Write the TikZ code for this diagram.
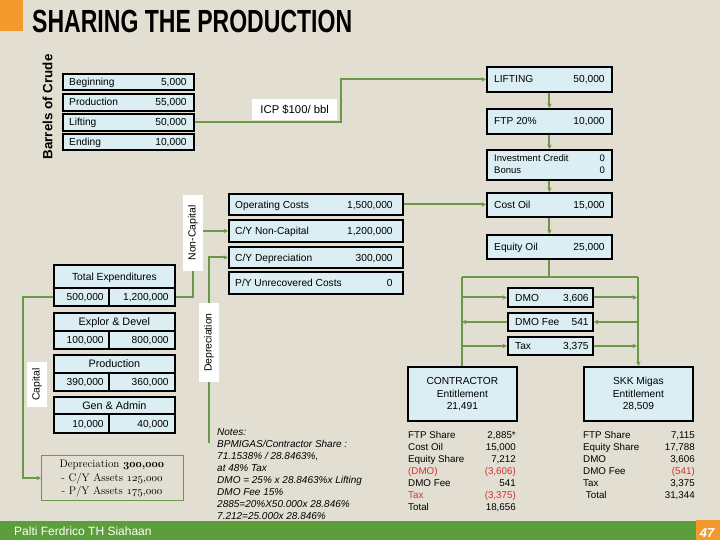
\documentclass[tikz,border=0pt]{standalone}
\usepackage{fontspec}
\setsansfont{Liberation Sans}
\usetikzlibrary{arrows.meta,calc}
\definecolor{bg}{RGB}{227,222,210}
\definecolor{boxfill}{RGB}{218,238,243}
\definecolor{lgreen}{RGB}{106,152,72}
\definecolor{bargreen}{RGB}{92,157,60}
\definecolor{orng}{RGB}{243,154,44}
\definecolor{redtxt}{RGB}{204,51,51}
\newcommand\fsz[1]{\fontsize{#1}{#1}\selectfont}
\def\lo{7}\def\ro{8}
% name x1 y1 x2 y2 label value
\newcommand\rbox[7]{%
  \node[bx, minimum width={(#4-#2)*1pt}, minimum height={(#5-#3)*1pt}, anchor=north west] (#1) at (#2,#3) {};
  \node[tx, anchor=base west] (#1-l) at ([xshift=\lo pt, yshift=-3.6pt]#1.west) {#6};
  \node[tx, anchor=base east] (#1-v) at ([xshift=-\ro pt, yshift=-3.6pt]#1.east) {#7};}
% name y1 y2 y3 header v1 v2
\newcommand\exg[7]{%
  \node[bx, minimum width=121pt, minimum height={(#3-#2)*1pt}, anchor=north west] (#1) at (53,#2) {};
  \node[bx, minimum width=55pt, minimum height={(#4-#3)*1pt}, anchor=north west] (#1a) at (53,#3) {};
  \node[bx, minimum width=66pt, minimum height={(#4-#3)*1pt}, anchor=north west] (#1b) at (108,#3) {};
  \node[tx, font=\sffamily\fsz{10.8}, anchor=base] (#1-h) at ([yshift=-4pt]#1.center) {#5};
  \node[tx, anchor=base east] (#1-v1) at ([xshift=-6pt, yshift=-3.6pt]#1a.east) {#6};
  \node[tx, anchor=base east] (#1-v2) at ([xshift=-7pt, yshift=-3.6pt]#1b.east) {#7};}
% name x1 x2 l1 l2 l3
\newcommand\ent[6]{%
  \node[bx, minimum width={(#3-#2)*1pt}, minimum height=54pt, anchor=north west] (#1) at (#2,366) {};
  \node[tx, anchor=base] (#1-a) at ($(#1.north)+(0,18)$) {#4};
  \node[tx, anchor=base] (#1-b) at ($(#1.north)+(0,31)$) {#5};
  \node[tx, anchor=base] (#1-c) at ($(#1.north)+(0,43.5)$) {#6};}
\begin{document}
\begin{tikzpicture}[x=1pt,y=-1pt,
  bx/.style={draw=black, line width=1.8pt, fill=boxfill, inner sep=0pt},
  tx/.style={inner sep=0pt, font=\sffamily\fsz{10.2}},
  wl/.style={fill=white, inner sep=0pt, font=\sffamily\fsz{10.4}},
  conn/.style={draw=lgreen, line width=2pt},
  arrowed/.style={-{Stealth[length=4.5pt,width=4.5pt]}},
  lst/.style={inner sep=0pt, font=\sffamily\fsz{9.8}},
  note/.style={inner sep=0pt, anchor=base west, font=\sffamily\itshape\fsz{10}}]
\useasboundingbox (0,0) rectangle (720,540);
\fill[bg] (0,0) rectangle (720,540);
\fill[orng] (0,0) rectangle (23,31);
\node[inner sep=0pt, anchor=base west, font=\sffamily\bfseries\fsz{32}] (title) at (32,33) {\scalebox{0.72}[1]{SHARING THE PRODUCTION}};
\node[inner sep=0pt, rotate=90, font=\sffamily\bfseries\fsz{13.4}] (barrels) at (47.5,107) {Barrels of Crude};

% crude boxes
\def\lo{7}\def\ro{8}
\rbox{beg}{62}{73}{193}{89}{Beginning}{5,000}
\rbox{prod}{62}{93}{193}{110}{Production}{55,000}
\rbox{lift}{62}{113}{193}{130}{Lifting}{50,000}
\rbox{endb}{62}{133}{193}{149}{Ending}{10,000}

% right column
\def\lo{8}\def\ro{8}
\rbox{LIFT}{486}{66}{611}{91}{LIFTING}{50,000}
\rbox{ftp}{486}{108}{611}{133}{FTP 20\%}{10,000}
\node[bx, minimum width=125pt, minimum height=30pt, anchor=north west] (inv) at (486,149) {};
\node[tx, font=\sffamily\fsz{9.5}, anchor=base west] (inv-l1) at (494,162) {Investment Credit};
\node[tx, font=\sffamily\fsz{9.5}, anchor=base west] (inv-l2) at (494,174) {Bonus};
\node[tx, font=\sffamily\fsz{9.5}, anchor=base east] (inv-v1) at (605,162) {0};
\node[tx, font=\sffamily\fsz{9.5}, anchor=base east] (inv-v2) at (605,174) {0};
\rbox{cost}{486}{192}{611}{216}{Cost Oil}{15,000}
\rbox{eq}{486}{234}{611}{258}{Equity Oil}{25,000}

% middle column
\def\lo{7}\def\ro{11}
\rbox{opc}{228}{193}{402}{214}{Operating Costs}{1,500,000}
\rbox{cynon}{228}{219}{402}{241}{C/Y Non-Capital}{1,200,000}
\rbox{cydep}{228}{246}{402}{267}{C/Y Depreciation}{300,000}
\rbox{pyun}{228}{271}{402}{293}{P/Y Unrecovered Costs}{0}

% DMO boxes
\def\lo{8}\def\ro{5}
\rbox{dmo}{507}{287}{592}{306}{DMO}{3,606}
\rbox{fee}{507}{312}{592}{330}{DMO Fee}{541}
\rbox{tax}{507}{336}{592}{354}{Tax}{3,375}

% entitlements
\ent{con}{407}{516}{CONTRACTOR}{Entitlement}{21,491}
\ent{skk}{583}{692}{SKK Migas}{Entitlement}{28,509}

% expenditures
\exg{te}{264}{287}{305}{\fsz{10.3}Total Expenditures}{500,000}{1,200,000}
\exg{ed}{312}{330}{348}{Explor \& Devel}{100,000}{800,000}
\exg{pr}{354}{372}{390}{Production}{390,000}{360,000}
\exg{ga}{396}{413}{432}{Gen \& Admin}{10,000}{40,000}

% white labels
\node[wl, font=\sffamily\fsz{11.3}, minimum width=85pt, minimum height=21pt, anchor=north west] (icp) at (252,99) {ICP \$100/ bbl};
\node[wl, minimum width=20pt, minimum height=76pt] (noncap) at (193,233) {\rotatebox{90}{Non-Capital}};
\node[wl, minimum width=20pt, minimum height=79pt] (dep) at (209,342.5) {\rotatebox{90}{Depreciation}};
\node[wl, minimum width=20pt, minimum height=45pt] (cap) at (37,384.5) {\rotatebox{90}{Capital}};

% depreciation note
\node[draw=lgreen, line width=1.2pt, fill=bg, inner sep=0pt, minimum width=142pt, minimum height=45pt, anchor=north west] (dnote) at (41,455) {};
\node[inner sep=0pt, anchor=base, font=\rmfamily\fsz{11}] (dn1) at (112,467) {Depreciation {\boldmath$\mathnormal{300{,}000}$}};
\node[inner sep=0pt, anchor=base, font=\rmfamily\fsz{11}] (dn2) at (112,481) {- C/Y Assets $\mathnormal{125{,}000}$};
\node[inner sep=0pt, anchor=base, font=\rmfamily\fsz{11}] (dn3) at (112,494) {- P/Y Assets $\mathnormal{175{,}000}$};

% connectors
\draw[conn, arrowed] (lift.east) -- ++(146,0) |- (LIFT.west);
\draw[conn, arrowed] (LIFT.south) -- (ftp.north);
\draw[conn, arrowed] (ftp.south) -- (inv.north);
\draw[conn, arrowed] (inv.south) -- (cost.north);
\draw[conn, arrowed] (cost.south) -- (eq.north);
\draw[conn, arrowed] (opc.east) -- (opc.east -| cost.west);
\coordinate (L) at (462,277);
\coordinate (R) at (637,277);
\draw[conn] (eq.south) -- (eq.south |- L);
\draw[conn] (con.north |- L) -- (skk.north |- R);
\draw[conn] (con.north |- L) -- (con.north);
\draw[conn, arrowed] (skk.north |- R) -- (skk.north);
\draw[conn, arrowed] (dmo.west -| L) -- (dmo.west);
\draw[conn, arrowed] (dmo.east) -- (dmo.east -| R);
\draw[conn, arrowed] (fee.east -| R) -- (fee.east);
\draw[conn, arrowed] (fee.west) -- (fee.west -| L);
\draw[conn, arrowed] (tax.west -| L) -- (tax.west);
\draw[conn, arrowed] (tax.east) -- (tax.east -| R);
\draw[conn, arrowed] (noncap.east |- cynon.west) -- (cynon.west);
\draw[conn] (teb.east) -| (noncap.south);
\draw[conn, arrowed] (dep.north) |- (cydep.west);
\coordinate (depend) at (209,443);
\draw[conn] (dep.south) -- (depend);
\draw[conn, arrowed] (tea.west) -- ++(-30,0) |- (dnote.west);

% notes
\node[note] (n1) at (217,435) {Notes:};
\node[note] (n2) at (217,447) {BPMIGAS/Contractor Share :};
\node[note] (n3) at (217,459.5) {71.1538\% / 28.8463\%,};
\node[note] (n4) at (217,471.5) {at 48\% Tax};
\node[note] (n5) at (217,483.5) {DMO = 25\% x 28.8463\%x Lifting};
\node[note] (n6) at (217,495) {DMO Fee 15\%};
\node[note] (n7) at (217,507) {2885=20\%X50.000x 28.846\%};
\node[note] (n8) at (217,519) {7.212=25.000x 28.846\%};

% contractor list
\foreach \lab/\val/\col [count=\i] in {FTP Share/{2,885*}/black, Cost Oil/{15,000}/black, Equity Share/{7,212}/black, (DMO)/{(3,606)}/redtxt, DMO Fee/541/black, Tax/{(3,375)}/redtxt, Total/{18,656}/black}{
  \node[lst, anchor=base west, text=\col] (cl\i) at (408,{438+12*(\i-1)}) {\lab};
  \node[lst, anchor=base east, text=\col] (cv\i) at (516,{438+12*(\i-1)}) {\val};
}
% SKK list
\foreach \lab/\val/\col [count=\i] in {FTP Share/{7,115}/black, Equity Share/{17,788}/black, DMO/{3,606}/black, DMO Fee/{(541)}/redtxt, Tax/{3,375}/black, \ Total/{31,344}/black}{
  \node[lst, anchor=base west] (sl\i) at (583,{438+12*(\i-1)}) {\lab};
  \node[lst, anchor=base east, text=\col] (sv\i) at (695,{438+12*(\i-1)}) {\val};
}

% bottom bar
\fill[bargreen] (0,521) rectangle (720,540);
\fill[orng] (696,520) rectangle (720,540);
\node[inner sep=0pt, anchor=base west, text=white, font=\sffamily\fsz{12}] (author) at (14,535.5) {Palti Ferdrico TH Siahaan};
\node[inner sep=0pt, anchor=base, text=white, font=\sffamily\bfseries\itshape\fsz{13}] (pg) at (707,537) {47};
\end{tikzpicture}
\end{document}
